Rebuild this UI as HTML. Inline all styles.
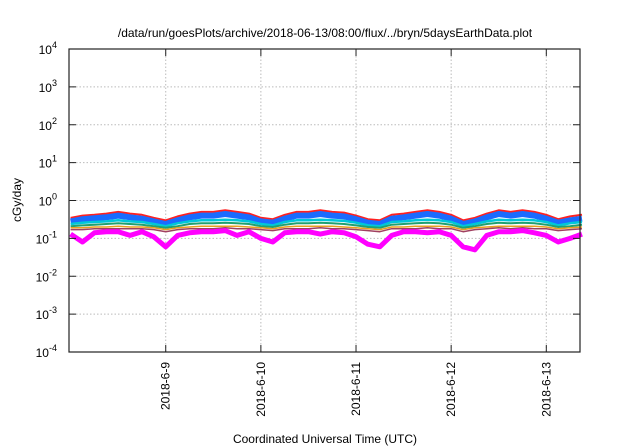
<!DOCTYPE html>
<html><head><meta charset="utf-8"><style>
body{margin:0;background:#fff;}
svg{display:block;font-family:"Liberation Sans",sans-serif;}
</style></head><body>
<svg id="chart" width="640" height="448" viewBox="0 0 640 448">
<text x="325" y="37" font-size="12" text-anchor="middle">/data/run/goesPlots/archive/2018-06-13/08:00/flux/../bryn/5daysEarthData.plot</text>
<g id="grid"></g>
<g id="series"></g>
<rect x="69" y="49" width="511" height="303" fill="none" stroke="#222" stroke-width="1.2"/>
<g id="axes"></g>
<text transform="translate(21,200) rotate(-90)" font-size="12" text-anchor="middle">cGy/day</text>
<text x="325" y="443" font-size="12" text-anchor="middle">Coordinated Universal Time (UTC)</text>
</svg>
<script>
const hours=[0,3,6,9,12,15,18,21,24,27,30,33,36,39,42,45,48,51,54,57,60,63,66,69,72,75,78,81,84,87,90,93,96,99,102,105,108,111,114,117,120,123,126,129];
const redVals=[0.35,0.4,0.42,0.45,0.5,0.45,0.42,0.35,0.3,0.38,0.45,0.5,0.5,0.55,0.5,0.45,0.35,0.32,0.42,0.5,0.5,0.55,0.5,0.48,0.4,0.32,0.3,0.42,0.45,0.5,0.55,0.5,0.42,0.3,0.35,0.45,0.55,0.5,0.55,0.5,0.42,0.32,0.38,0.42];
const blueVals=[0.28,0.32,0.34,0.36,0.4,0.36,0.33,0.28,0.24,0.3,0.36,0.4,0.4,0.44,0.4,0.36,0.28,0.26,0.33,0.4,0.4,0.44,0.4,0.38,0.32,0.26,0.24,0.33,0.36,0.4,0.44,0.4,0.33,0.24,0.28,0.36,0.44,0.4,0.44,0.4,0.33,0.26,0.3,0.33];
const cyanVals=[0.24,0.26,0.27,0.28,0.3,0.28,0.27,0.24,0.21,0.25,0.28,0.3,0.3,0.31,0.3,0.28,0.24,0.22,0.27,0.3,0.3,0.31,0.3,0.29,0.26,0.22,0.21,0.27,0.28,0.3,0.31,0.3,0.27,0.21,0.24,0.28,0.31,0.3,0.31,0.3,0.27,0.22,0.25,0.27];
const greenVals=[0.21,0.22,0.23,0.24,0.25,0.24,0.23,0.21,0.19,0.21,0.24,0.25,0.25,0.26,0.25,0.24,0.21,0.2,0.23,0.25,0.25,0.26,0.25,0.24,0.22,0.2,0.19,0.23,0.24,0.25,0.26,0.25,0.23,0.19,0.21,0.24,0.26,0.25,0.26,0.25,0.23,0.2,0.21,0.23];
const orangeVals=[0.19,0.19,0.2,0.2,0.21,0.2,0.2,0.19,0.17,0.19,0.2,0.21,0.21,0.21,0.21,0.2,0.19,0.18,0.2,0.21,0.21,0.21,0.21,0.2,0.19,0.18,0.17,0.2,0.2,0.21,0.21,0.21,0.2,0.17,0.19,0.2,0.21,0.21,0.21,0.21,0.2,0.18,0.19,0.2];
const brownVals=[0.17,0.17,0.18,0.18,0.18,0.18,0.18,0.17,0.15,0.17,0.18,0.18,0.18,0.19,0.18,0.18,0.17,0.16,0.18,0.18,0.18,0.19,0.18,0.18,0.17,0.16,0.15,0.18,0.18,0.18,0.19,0.18,0.18,0.15,0.17,0.18,0.19,0.18,0.19,0.18,0.18,0.16,0.17,0.18];
const magentaVals=[0.13,0.08,0.14,0.15,0.15,0.12,0.15,0.11,0.06,0.12,0.14,0.15,0.15,0.16,0.12,0.15,0.1,0.08,0.14,0.15,0.15,0.13,0.15,0.14,0.11,0.07,0.06,0.12,0.15,0.15,0.14,0.15,0.12,0.06,0.05,0.12,0.15,0.15,0.16,0.14,0.12,0.08,0.1,0.13];
const yTickExps=[-4,-3,-2,-1,0,1,2,3,4];
const xTickLabels=["2018-6-9","2018-6-10","2018-6-11","2018-6-12","2018-6-13"];
const xTickHours=[24,48,72,96,120];

const L=69,R=580,T=49,B=352;
const hMin=-0.4,hMax=128.5;
const xs=h=>L+(h-hMin)/(hMax-hMin)*(R-L);
const ys=v=>B-(Math.log10(v)+4)/8*(B-T);
const NS="http://www.w3.org/2000/svg";
function mk(tag,attrs,parent){const e=document.createElementNS(NS,tag);for(const k in attrs)e.setAttribute(k,attrs[k]);parent.appendChild(e);return e;}
const grid=document.getElementById('grid'),axes=document.getElementById('axes'),ser=document.getElementById('series');
yTickExps.forEach(p=>{
  const y=B-(p+4)/8*(B-T);
  if(p>-4&&p<4){const g=mk('line',{x1:L,x2:R,y1:y,y2:y,stroke:'#bbb','stroke-dasharray':'1.5,2'},grid);
  }
  const t1=mk('line',{x1:L,x2:L+7,y1:y,y2:y,stroke:'#222'},axes);
  const t2=mk('line',{x1:R-7,x2:R,y1:y,y2:y,stroke:'#222'},axes);
  const tx=mk('text',{x:L-12,y:y+5,'font-size':'12','text-anchor':'end'},axes);
  
  tx.textContent='10';const s=mk('tspan',{dy:-6,'font-size':'9'},tx);s.textContent=String(p);
});
xTickHours.forEach((h,i)=>{
  const x=xs(h);
  const g=mk('line',{x1:x,x2:x,y1:T,y2:B,stroke:'#bbb','stroke-dasharray':'1.5,2'},grid);
  
  const t1=mk('line',{x1:x,x2:x,y1:B-7,y2:B,stroke:'#222'},axes);
  const t2=mk('line',{x1:x,x2:x,y1:T,y2:T+7,stroke:'#222'},axes);
  const tx=mk('text',{transform:`translate(${x+4},${B+10}) rotate(-90)`,'font-size':'12','text-anchor':'end'},axes);
  
  tx.textContent=xTickLabels[i];
});
const seriesDefs=[[redVals,'#ff2020',2,'red-series'],[blueVals,'#1a6bff',6,'blue-series'],[cyanVals,'#00c8d8',2.5,'cyan-series'],[greenVals,'#20a070',2,'green-series'],[orangeVals,'#e8a020',1.5,'orange-series'],[brownVals,'#a04060',1.5,'brown-series'],[magentaVals,'#ff00ff',5,'magenta-series']];
seriesDefs.forEach(([vals,col,w,name])=>{
  const d=vals.map((v,i)=>(i?'L':'M')+xs(hours[i]).toFixed(1)+','+ys(v).toFixed(1)).join('');
  const p=mk('path',{d:d,fill:'none',stroke:col,'stroke-width':w,'stroke-linejoin':'round'},ser);
  
});
</script>
</body></html>
